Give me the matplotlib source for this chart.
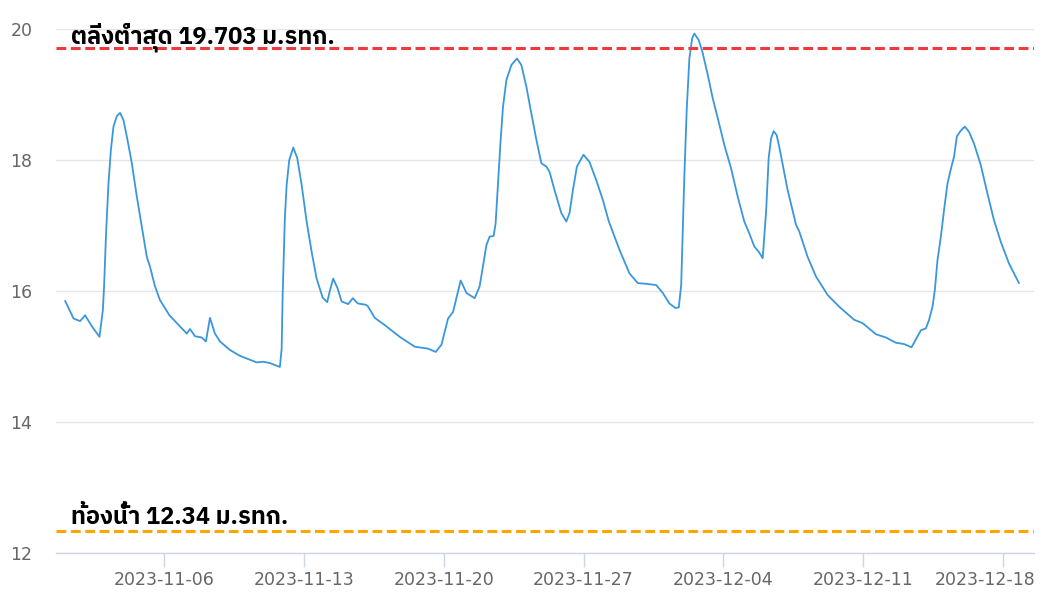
import matplotlib
matplotlib.use('Agg')
import matplotlib.pyplot as plt
import matplotlib.dates as mdates
import matplotlib.patheffects as pe
import matplotlib.transforms as mtransforms
from matplotlib import font_manager as fm
from matplotlib.ft2font import FT2Font
from datetime import datetime, timedelta

# ---- data (days since 2023-11-01 00:00, water level m MSL) ----
start = datetime(2023, 11, 1)
day_offset = [0.05, 0.47, 0.80, 1.05, 1.39, 1.77, 1.94, 2.00, 2.10, 2.22, 2.34, 2.47, 2.64, 2.80, 2.97,
              3.17, 3.39, 3.64, 3.89, 4.14, 4.30, 4.55, 4.80, 5.27, 5.64, 6.14, 6.30, 6.55, 6.89, 7.10,
              7.30, 7.55, 7.80, 8.30, 8.80, 9.64, 9.97, 10.30, 10.80, 10.89, 10.94, 11.00, 11.05, 11.14,
              11.27, 11.47, 11.67, 11.89, 12.14, 12.39, 12.64, 12.94, 13.17, 13.30, 13.47, 13.69, 13.89,
              14.22, 14.45, 14.70, 15.10, 15.20, 15.55, 16.05, 16.80, 17.55, 18.22, 18.60, 18.89, 19.22,
              19.47, 19.85, 20.14, 20.55, 20.80, 21.14, 21.30, 21.50, 21.60, 21.72, 21.84, 21.97, 22.14,
              22.39, 22.67, 22.89, 23.14, 23.39, 23.64, 23.89, 24.14, 24.30, 24.55, 24.89, 25.14, 25.30,
              25.47, 25.67, 26.00, 26.30, 26.64, 26.97, 27.27, 27.80, 28.30, 28.72, 29.14, 29.64, 29.97,
              30.30, 30.60, 30.77, 30.89, 30.97, 31.05, 31.17, 31.30, 31.44, 31.55, 31.77, 31.97, 32.22,
              32.47, 32.72, 33.05, 33.39, 33.72, 34.05, 34.30, 34.55, 34.77, 34.97, 35.14, 35.27, 35.39,
              35.52, 35.67, 35.80, 36.22, 36.64, 36.80, 37.22, 37.64, 38.22, 38.80, 39.55, 39.97, 40.64,
              41.14, 41.64, 42.05, 42.42, 42.89, 43.14, 43.30, 43.47, 43.59, 43.72, 43.89, 44.05, 44.22,
              44.42, 44.55, 44.69, 44.89, 45.09, 45.30, 45.55, 45.89, 46.22, 46.55, 46.89, 47.30, 47.80]
level = [15.85, 15.58, 15.54, 15.63, 15.46, 15.30, 15.71, 16.07, 16.88, 17.64, 18.15, 18.51, 18.67, 18.72, 18.61,
         18.31, 17.95, 17.44, 16.98, 16.52, 16.37, 16.07, 15.86, 15.63, 15.51, 15.35, 15.42, 15.31, 15.29, 15.23,
         15.59, 15.35, 15.23, 15.10, 15.01, 14.91, 14.92, 14.90, 14.84, 15.12, 15.94, 16.60, 17.11, 17.62,
         18.00, 18.19, 18.03, 17.62, 17.06, 16.60, 16.19, 15.90, 15.83, 16.00, 16.19, 16.04, 15.84,
         15.80, 15.89, 15.81, 15.79, 15.77, 15.59, 15.48, 15.30, 15.15, 15.12, 15.07, 15.18, 15.58,
         15.68, 16.16, 15.97, 15.89, 16.07, 16.70, 16.83, 16.84, 17.03, 17.64, 18.25, 18.81, 19.22,
         19.45, 19.55, 19.45, 19.12, 18.71, 18.31, 17.95, 17.90, 17.82, 17.54, 17.19, 17.06, 17.19,
         17.54, 17.90, 18.08, 17.97, 17.69, 17.39, 17.06, 16.63, 16.27, 16.12, 16.11, 16.09, 15.97,
         15.81, 15.74, 15.75, 16.09, 16.91, 17.77, 18.79, 19.55, 19.86, 19.93, 19.83, 19.63, 19.30,
         18.94, 18.64, 18.23, 17.87, 17.44, 17.06, 16.88, 16.68, 16.60, 16.50, 17.21, 18.03, 18.33,
         18.44, 18.38, 18.20, 17.54, 17.01, 16.91, 16.52, 16.22, 15.94, 15.76, 15.56, 15.51, 15.34,
         15.29, 15.21, 15.19, 15.14, 15.40, 15.43, 15.56, 15.76, 16.02, 16.47, 16.83, 17.24, 17.64,
         17.90, 18.05, 18.36, 18.45, 18.51, 18.43, 18.25, 17.92, 17.49, 17.08, 16.75, 16.42, 16.12]

bank_level = 19.703
bed_level = 12.34
bank_label = "ตลิ่งต่ำสุด 19.703 ม.รทก."
bed_label = "ท้องน้ำ 12.34 ม.รทก."
y_ticks = [12, 14, 16, 18, 20]
x_tick_dates = ["2023-11-06", "2023-11-13", "2023-11-20", "2023-11-27",
                "2023-12-04", "2023-12-11", "2023-12-18"]


def thai_font():
    best = None
    for f in fm.fontManager.ttflist:
        try:
            cm = FT2Font(f.fname).get_charmap()
        except Exception:
            continue
        if 0x0E15 in cm and 0x0E33 in cm and 0x0E48 in cm:
            w = f.weight
            bold = (isinstance(w, int) and w >= 600) or ('bold' in str(w).lower())
            score = (3 if bold else 0) + (0 if 'Looped' in f.name else 1) + (1 if 'Sans' in f.name else 0)
            if best is None or score > best[0]:
                best = (score, f, bold)
    return best


tf = thai_font()
if tf is not None:
    label_fp = fm.FontProperties(fname=tf[1].fname, size=17)
    need_stroke = not tf[2]
else:
    label_fp = fm.FontProperties(family=['DejaVu Sans'], weight='bold', size=17)
    need_stroke = False

times = [start + timedelta(days=d) for d in day_offset]

fig = plt.figure(figsize=(10.56, 5.98), dpi=100)
W, H = 1056, 598
left, right, top, bottom = 56, 1034, 29, 553
ax = fig.add_axes([left / W, 1 - bottom / H, (right - left) / W, (bottom - top) / H])

ax.set_ylim(12, 20)
xmin = datetime(2023, 11, 6) - timedelta(days=(164 - 56) / 19.976)
xmax = datetime(2023, 12, 18) + timedelta(days=(1034 - 1003) / 19.976)
ax.set_xlim(xmin, xmax)

ax.set_yticks(y_ticks)
ax.yaxis.grid(True, color='#e6e6e6', linewidth=1.0)
ax.set_axisbelow(True)
for s in ['left', 'right', 'top']:
    ax.spines[s].set_visible(False)
ax.spines['bottom'].set_color('#ccd6eb')
ax.spines['bottom'].set_linewidth(1.0)

ax.set_xticks([datetime.strptime(s, "%Y-%m-%d") for s in x_tick_dates])
ax.xaxis.set_major_formatter(mdates.DateFormatter('%Y-%m-%d'))
ax.tick_params(axis='x', length=10, width=1, color='#ccd6eb', labelsize=12.5,
               labelcolor='#666666', pad=3)
ax.tick_params(axis='y', length=0, labelsize=12.5, labelcolor='#666666', pad=17)

# keep the last date label inside the plot area (shifted left like the original)
last_lab = ax.xaxis.get_major_ticks()[-1].label1
last_lab.set_transform(last_lab.get_transform() +
                       mtransforms.ScaledTranslation(-18 / 100, 0, fig.dpi_scale_trans))

ax.plot(times, level, color='#3a97dc', linewidth=1.3, solid_joinstyle='round',
        solid_capstyle='round', zorder=3)

ax.axhline(bank_level, color='#f03a3a', linewidth=2.2, linestyle=(0, (3.2, 1.5)), zorder=4)
ax.axhline(bed_level, color='#ffa500', linewidth=2.2, linestyle=(0, (3.2, 1.5)), zorder=4)

trans = ax.get_yaxis_transform()
kw = dict(fontproperties=label_fp, color='black', va='baseline', ha='left', zorder=5, transform=trans)
if need_stroke:
    kw['path_effects'] = [pe.withStroke(linewidth=0.9, foreground='black')]
ax.text((71 - left) / (right - left), 20 - (43 - 29) / 65.5, bank_label, **kw)
ax.text((71 - left) / (right - left), 20 - (524 - 29) / 65.5, bed_label, **kw)

fig.savefig('out.png', dpi=100)
